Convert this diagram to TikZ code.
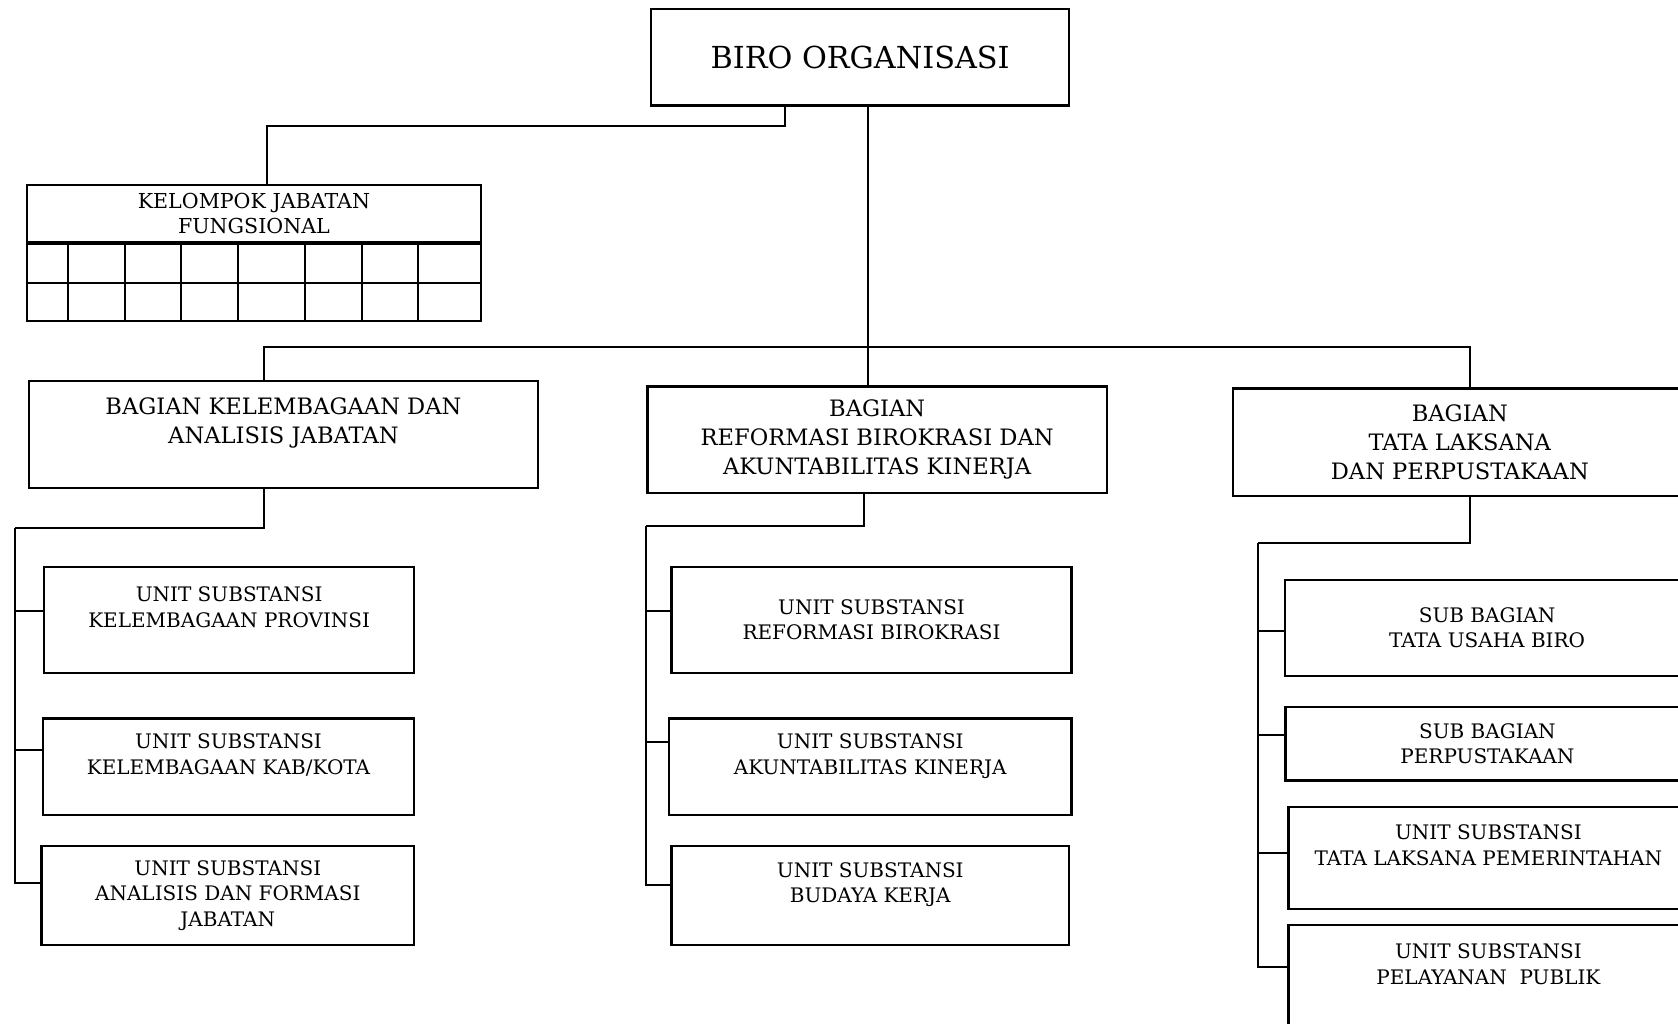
\documentclass[tikz,border=0pt]{standalone}
\usepackage{fontspec}
\setmainfont{DejaVu Serif}
\begin{document}
\begin{tikzpicture}[x=1pt,y=-1pt,%
% common options for the boxes:
box/.style = {draw, line width=2.2pt, align=center, anchor=north west,
            inner sep=0, font=\fontsize{20}{25.7}\selectfont},
% common options for the bagian boxes:
bagian/.style = {box, font=\fontsize{22.6}{29}\selectfont},
% common options for the connectors:
line/.style = {line width=2pt}]
\useasboundingbox (0,0) rectangle (1678,1023);
\clip (0,0) rectangle (1678,1023);
% head
\node[box,minimum width=418pt,minimum height=96.8pt,font=\fontsize{30.3}{36}\selectfont] (biro) at (650,7.5) {BIRO ORGANISASI};
\node[box,minimum width=454.3pt,minimum height=57pt,font=\fontsize{20.6}{25.7}\selectfont] (kjf) at (25.7,184) {KELOMPOK JABATAN\\FUNGSIONAL};
\node[box,minimum width=454.3pt,minimum height=76.7pt] (kjfgrid) at (kjf.south west) {};
\draw[line] (kjfgrid.west) -- (kjfgrid.east);
\foreach \x in {42.3,99.3,155.3,212.3,279.3,336.3,392.3}
  \draw[line] ([xshift=\x pt]kjfgrid.north west) -- ([xshift=\x pt]kjfgrid.south west);
% bagian
\node[bagian,minimum width=508.9pt,minimum height=106.7pt] (B1) at (27.9,380.2) {BAGIAN KELEMBAGAAN DAN\\ANALISIS JABATAN\\~};
\node[bagian,minimum width=459.3pt,minimum height=106.7pt] (B2) at (646.4,385.3) {BAGIAN\\REFORMASI BIROKRASI DAN\\AKUNTABILITAS KINERJA};
\node[bagian,minimum width=454pt,minimum height=107.4pt] (B3) at (1231.7,387.4) {BAGIAN\\TATA LAKSANA\\DAN PERPUSTAKAAN};
% units
\node[box,minimum width=370.3pt,minimum height=105.5pt] (C1) at (42.9,566) {UNIT SUBSTANSI\\KELEMBAGAAN PROVINSI\\~};
\node[box,minimum width=371.2pt,minimum height=96.5pt] (C2) at (41.8,717.3) {UNIT SUBSTANSI\\KELEMBAGAAN KAB/KOTA\\~};
\node[box,minimum width=372.6pt,minimum height=98.8pt] (C3) at (40.4,845) {UNIT SUBSTANSI\\ANALISIS DAN FORMASI\\JABATAN};
\node[box,minimum width=400pt,minimum height=105.5pt] (D1) at (670.4,566) {UNIT SUBSTANSI\\REFORMASI BIROKRASI};
\node[box,minimum width=402.5pt,minimum height=96.5pt] (D2) at (667.9,717.3) {UNIT SUBSTANSI\\AKUNTABILITAS KINERJA\\~};
\node[box,minimum width=397.5pt,minimum height=98.8pt] (D3) at (670.4,845) {UNIT SUBSTANSI\\BUDAYA KERJA\\~};
\node[box,minimum width=404pt,minimum height=95.9pt] (E1) at (1284,578.8) {SUB BAGIAN\\TATA USAHA BIRO};
\node[box,minimum width=404pt,minimum height=73.8pt] (E2) at (1284.3,705.6) {SUB BAGIAN\\PERPUSTAKAAN};
\node[box,minimum width=400pt,minimum height=102pt] (E3) at (1287.3,806) {UNIT SUBSTANSI\\TATA LAKSANA PEMERINTAHAN\\~};
\node[box,minimum width=400pt,minimum height=104pt] (E4) at (1287.3,923.5) {UNIT SUBSTANSI\\PELAYANAN~~PUBLIK\\~};
% connectors
\coordinate (bar) at (867.9,347);
\draw[line] ([xshift=-75pt]biro.south) -- ++(0,19.3) -| ([xshift=13pt]kjf.north);
\draw[line] (bar |- biro.south) -- (bar |- B2.north);
\draw[line] ([xshift=-19.3pt]B1.north) |- (bar) -| ([xshift=10.3pt]B3.north);
\coordinate (Ctop) at (15,528.4);
\draw[line] ([xshift=-19.3pt]B1.south) |- (Ctop);
\foreach \n/\s in {C1/9.3,C2/16.5,C3/12.2}
  \draw[line] ([yshift=\s pt]\n.west) -| (Ctop);
\coordinate (Dtop) at (646.4,526.4);
\draw[line] ([xshift=-13.1pt]B2.south) |- (Dtop);
\foreach \n/\s in {D1/9.3,D2/24.5,D3/11}
  \draw[line] ([yshift=\s pt]\n.west) -| (Dtop);
\coordinate (Etop) at (1258.3,543);
\draw[line] ([xshift=10.3pt]B3.south) |- (Etop);
\foreach \n/\s in {E1/-2.8,E2/8.2,E3/5.6,E4/10}
  \draw[line] ([yshift=\s pt]\n.west) -| (Etop);
\end{tikzpicture}
\end{document}
